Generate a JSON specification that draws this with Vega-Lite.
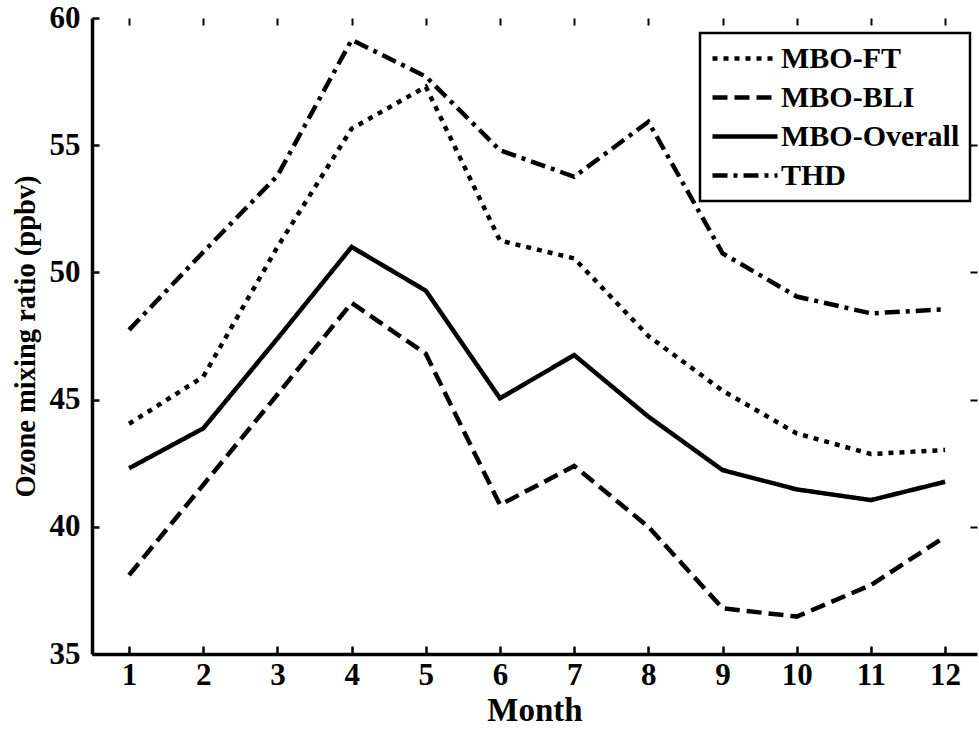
{
  "$schema": "https://vega.github.io/schema/vega-lite/v6.json",
  "autosize": "none",
  "width": 885,
  "height": 636,
  "padding": {"left": 92, "top": 18, "right": 2, "bottom": 77},
  "background": "white",
  "config": {
    "view": {"stroke": null},
    "font": "Liberation Serif",
    "legend": {"strokeWidth": 2.5},
    "axis": {"grid": false, "domainColor": "black", "tickColor": "black", "labelColor": "black", "titleColor": "black", "labelFont": "Liberation Serif", "titleFont": "Liberation Serif", "labelFontWeight": "bold", "titleFontWeight": "bold"}
  },
  "data": {
    "values": [
      {"month": 1, "series": "MBO-FT", "value": 44.05},
      {"month": 2, "series": "MBO-FT", "value": 45.9},
      {"month": 3, "series": "MBO-FT", "value": 51.0},
      {"month": 4, "series": "MBO-FT", "value": 55.65},
      {"month": 5, "series": "MBO-FT", "value": 57.3},
      {"month": 6, "series": "MBO-FT", "value": 51.25},
      {"month": 7, "series": "MBO-FT", "value": 50.55},
      {"month": 8, "series": "MBO-FT", "value": 47.5},
      {"month": 9, "series": "MBO-FT", "value": 45.35},
      {"month": 10, "series": "MBO-FT", "value": 43.67},
      {"month": 11, "series": "MBO-FT", "value": 42.86},
      {"month": 12, "series": "MBO-FT", "value": 43.02},
      {"month": 1, "series": "MBO-BLI", "value": 38.1},
      {"month": 2, "series": "MBO-BLI", "value": 41.65},
      {"month": 3, "series": "MBO-BLI", "value": 45.2},
      {"month": 4, "series": "MBO-BLI", "value": 48.8},
      {"month": 5, "series": "MBO-BLI", "value": 46.8},
      {"month": 6, "series": "MBO-BLI", "value": 40.86},
      {"month": 7, "series": "MBO-BLI", "value": 42.39},
      {"month": 8, "series": "MBO-BLI", "value": 40.0},
      {"month": 9, "series": "MBO-BLI", "value": 36.8},
      {"month": 10, "series": "MBO-BLI", "value": 36.47},
      {"month": 11, "series": "MBO-BLI", "value": 37.71},
      {"month": 12, "series": "MBO-BLI", "value": 39.61},
      {"month": 1, "series": "MBO-Overall", "value": 42.3},
      {"month": 2, "series": "MBO-Overall", "value": 43.87},
      {"month": 3, "series": "MBO-Overall", "value": 47.4},
      {"month": 4, "series": "MBO-Overall", "value": 51.0},
      {"month": 5, "series": "MBO-Overall", "value": 49.28},
      {"month": 6, "series": "MBO-Overall", "value": 45.05},
      {"month": 7, "series": "MBO-Overall", "value": 46.75},
      {"month": 8, "series": "MBO-Overall", "value": 44.33},
      {"month": 9, "series": "MBO-Overall", "value": 42.23},
      {"month": 10, "series": "MBO-Overall", "value": 41.47},
      {"month": 11, "series": "MBO-Overall", "value": 41.05},
      {"month": 12, "series": "MBO-Overall", "value": 41.77},
      {"month": 1, "series": "THD", "value": 47.74},
      {"month": 2, "series": "THD", "value": 50.8},
      {"month": 3, "series": "THD", "value": 53.8},
      {"month": 4, "series": "THD", "value": 59.14},
      {"month": 5, "series": "THD", "value": 57.7},
      {"month": 6, "series": "THD", "value": 54.8},
      {"month": 7, "series": "THD", "value": 53.76},
      {"month": 8, "series": "THD", "value": 55.92},
      {"month": 9, "series": "THD", "value": 50.75},
      {"month": 10, "series": "THD", "value": 49.05},
      {"month": 11, "series": "THD", "value": 48.39},
      {"month": 12, "series": "THD", "value": 48.55}
    ]
  },
  "layer": [
    {
      "mark": {"type": "line", "color": "black", "strokeWidth": 4.5, "strokeCap": "butt", "strokeJoin": "miter"},
      "encoding": {
        "x": {
          "field": "month", "type": "quantitative",
          "scale": {"domain": [0.5, 12.43], "nice": false, "zero": false},
          "axis": {"orient": "bottom", "values": [1,2,3,4,5,6,7,8,9,10,11,12], "format": "d", "domainWidth": 3.5, "tickWidth": 2.5, "tickSize": -8, "labelPadding": 14, "labelFontSize": 31, "labelFlush": false, "title": "Month", "titleFontSize": 33, "titlePadding": 4}
        },
        "y": {
          "field": "value", "type": "quantitative",
          "scale": {"domain": [35, 60], "nice": false, "zero": false},
          "axis": {"orient": "left", "values": [35,40,45,50,55,60], "domainWidth": 3.5, "tickWidth": 2.5, "tickSize": -7, "labelPadding": 19, "labelFontSize": 31, "labelFlush": false, "title": "Ozone mixing ratio (ppbv)", "titleFontSize": 28.5, "titlePadding": 9}
        },
        "strokeDash": {
          "field": "series", "type": "nominal",
          "scale": {"domain": ["MBO-FT", "MBO-BLI", "MBO-Overall", "THD"], "range": [[5, 6], [15, 7], [1, 0], [15, 6, 4, 6]]},
          "legend": {
            "title": null, "orient": "none", "legendX": 608, "legendY": 15,
            "strokeColor": "black", "fillColor": "white", "padding": 10,
            "symbolType": "M-1,0H4", "symbolSize": 676, "symbolStrokeWidth": 4.5, "symbolStrokeColor": "black",
            "labelFont": "Liberation Serif", "labelFontWeight": "bold", "labelFontSize": 30, "labelColor": "black", "labelLimit": 0,
            "labelOffset": 40, "rowPadding": 8
          }
        }
      }
    },
    {
      "mark": {"type": "line", "strokeOpacity": 0, "color": "black"},
      "encoding": {
        "x": {
          "field": "month", "type": "quantitative",
          "scale": {"domain": [0.5, 12.43], "nice": false, "zero": false},
          "axis": {"orient": "top", "values": [1,2,3,4,5,6,7,8,9,10,11,12], "domain": false, "labels": false, "tickWidth": 2, "tickSize": -7, "title": null}
        },
        "y": {
          "field": "value", "type": "quantitative",
          "scale": {"domain": [35, 60], "nice": false, "zero": false},
          "axis": {"orient": "right", "values": [40,45,50,55], "domain": false, "labels": false, "tickWidth": 2, "tickSize": -7, "title": null}
        },
        "detail": {"field": "series", "type": "nominal"}
      }
    }
  ],
  "resolve": {"axis": {"x": "independent", "y": "independent"}}
}
